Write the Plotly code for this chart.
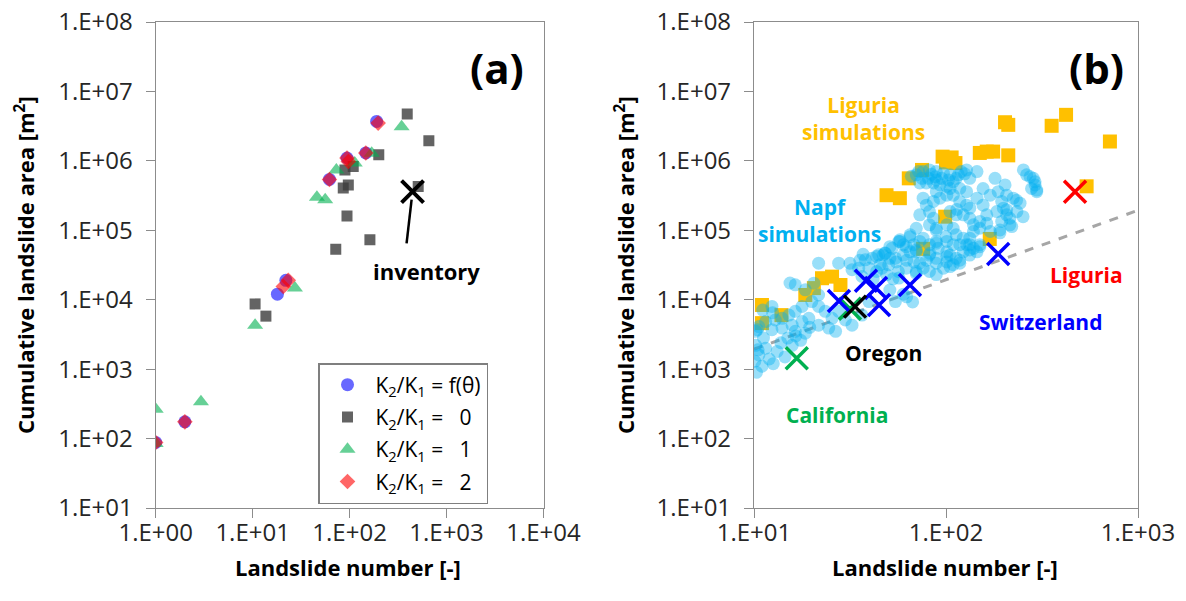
import numpy as np
import plotly.graph_objects as go

W, H = 1186, 601

# ---------------- Panel (a) data ----------------
a_f_x = [1, 2, 18, 22, 62, 94, 147, 190]
a_f_y = [88, 174, 1.2e4, 1.9e4, 5.4e5, 1.1e6, 1.3e6, 3.7e6]
a_0_x = [10.6, 13.7, 72, 86, 89.5, 94, 97, 109, 162, 200, 393, 510, 657]
a_0_y = [8.7e3, 5.8e3, 5.35e4, 4.05e5, 7.4e5, 1.6e5, 4.5e5, 8.3e5, 7.3e4, 1.22e6, 4.75e6, 4.27e5, 1.95e6]
a_1_x = [1, 1, 2.93, 10.6, 27.3, 46, 56, 73, 113, 169, 344]
a_1_y = [85, 265, 340, 4.3e3, 1.47e4, 3.0e5, 2.76e5, 7.4e5, 9.3e5, 1.29e6, 3.1e6]
a_2_x = [1, 2, 20.7, 23.3, 62, 94, 97, 147, 197]
a_2_y = [88, 174, 1.55e4, 1.9e4, 5.4e5, 1.1e6, 9.8e5, 1.3e6, 3.5e6]
inv_x = [446]
inv_y = [3.6e5]
arrow_x = [387, 436]
arrow_y = [6.5e4, 2.76e5]

# ---------------- Panel (b) data ----------------
lig_sim_x = [203, 211, 355, 422, 714, 540, 163, 176, 211, 150, 96, 107, 112, 100,
             75, 64, 49, 57.5, 99, 169, 76,
             11, 11, 13.9, 18.5, 20.5, 22.6, 25.5, 28.2]
lig_sim_y = [3.6e6, 3.3e6, 3.2e6, 4.6e6, 1.9e6, 4.3e5, 1.36e6, 1.36e6, 1.2e6, 1.3e6, 1.15e6, 1.12e6, 9.3e5, 9.5e5,
             7.4e5, 5.6e5, 3.2e5, 2.9e5, 1.57e5, 7.5e4, 5.4e4,
             8.4e3, 4.6e3, 6.0e3, 1.17e4, 1.47e4, 2.04e4, 2.15e4, 1.63e4]

napf_x = [128, 145, 133, 116, 180, 203, 253, 263, 285, 291, 297, 279, 156, 170, 187, 207, 224, 243, 195, 199,
          184, 207, 195, 215, 234, 215, 191, 170, 150, 139, 133, 128, 139, 123, 113, 105, 101, 89, 82, 79,
          73, 68, 65, 60, 57.5, 60, 55, 51, 47, 45.4, 49, 53, 43.5, 41.8, 56.5, 62, 70, 76, 82, 89,
          97, 109, 118, 133, 145, 150, 123, 113, 109, 101, 89, 82, 86, 82, 79, 86, 93, 101, 109, 118,
          128, 133, 123, 113, 105, 133, 139, 150, 163, 156, 145, 128, 118, 105, 89, 76, 73, 70, 65, 76,
          89, 101, 109, 101, 91, 82, 73, 68, 70, 133, 118,
          70, 76, 82, 89, 97, 105, 75, 81, 88, 95, 103, 109, 79, 86, 93, 101, 73, 113, 89, 84,
          21.7, 27.6, 32.4, 35.1, 38, 41.2, 44.6, 48.3, 52.4, 56.8, 54.5, 50.3, 46.4, 39.7, 36.5, 16.4,
          18.5, 20.5, 21.7, 20, 17.8, 16.4, 15.2, 14, 12.9, 12.4, 11.5, 10.6, 10.2, 21.7, 23.5, 25.5,
          19.3, 17.8, 15.8, 14, 12.4, 27.6, 29.9, 21.7, 24.5, 26.6, 16.4, 56.8, 54.5, 36.5, 32.4, 39.7,
          51, 57.6, 65, 70, 82.5, 89, 100, 43.5, 35.6, 31.6, 62.4, 89, 70, 62.4, 11.1, 12.5, 10.4, 15.4,
          233, 252, 220, 207, 191, 163, 150, 133, 118, 105, 101, 274, 291, 297,
          10.1, 10.3, 10.6, 11, 11.5, 12, 12.6, 13.2, 13.8, 14.5, 15, 15.8, 16.5, 17.5, 10.2, 11.2, 18.5, 19.5, 10.5,
          67, 51, 60, 66, 72, 120, 125, 37, 48, 62, 89, 114]
napf_y = [7.4e5, 7.0e5, 5.6e5, 6.3e5, 5.6e5, 4.5e5, 7.4e5, 6.3e5, 5.6e5, 4.5e5, 3.6e5, 4.0e5, 4.0e5, 3.2e5, 3.6e5, 3.2e5, 2.9e5, 2.46e5, 2.6e5, 2.08e5,
          1.86e5, 1.67e5, 1.34e5, 1.49e5, 1.86e5, 1.2e5, 1.01e5, 9.6e4, 1.07e5, 9.6e4, 7.7e4, 6.2e4, 5.5e4, 4.9e4, 3.95e4, 4.4e4, 3.5e4, 3.95e4, 4.4e4, 3.7e4,
          3.35e4, 3.5e4, 4.9e4, 6.2e4, 6.9e4, 4.4e4, 3.5e4, 3.95e4, 4.4e4, 3.2e4, 2.3e4, 2.0e4, 2.55e4, 2.0e4, 2.55e4, 2.85e4, 2.55e4, 2.85e4, 2.55e4, 2.3e4,
          2.85e4, 3.2e4, 3.35e4, 4.4e4, 4.9e4, 6.2e4, 7.7e4, 8.6e4, 1.07e5, 1.2e5, 1.07e5, 1.2e5, 1.49e5, 1.86e5, 2.3e5, 2.6e5, 2.9e5, 3.2e5, 3.2e5, 2.6e5,
          2.3e5, 2.08e5, 1.67e5, 1.67e5, 1.86e5, 1.49e5, 1.2e5, 1.34e5, 1.67e5, 2.3e5, 2.9e5, 3.6e5, 4.0e5, 4.0e5, 3.6e5, 2.9e5, 1.67e5, 1.07e5, 8.6e4, 7.7e4,
          6.9e4, 6.9e4, 6.2e4, 4.9e4, 5.5e4, 6.2e4, 6.9e4, 6.2e4, 4.9e4, 6.2e4, 6.2e4,
          6.3e5, 7.0e5, 7.4e5, 7.0e5, 6.6e5, 6.3e5, 5.6e5, 5.6e5, 5.9e5, 5.6e5, 5.3e5, 5.0e5, 4.8e5, 4.8e5, 4.5e5, 4.3e5, 4.8e5, 5.6e5, 5.3e5, 6.4e5,
          3.36e4, 3.36e4, 2.7e4, 2.85e4, 3.75e4, 3.96e4, 4.43e4, 4.68e4, 5.5e4, 6.9e4, 3.96e4, 3.18e4, 2.85e4, 2.85e4, 2.16e4, 1.64e4,
          1.39e4, 1.73e4, 1.17e4, 9.4e3, 8.0e3, 6.8e3, 6.0e3, 5.4e3, 5.1e3, 8.0e3, 4.85e3, 4.1e3, 3.5e3, 8.0e3, 6.8e3, 5.4e3,
          5.4e3, 4.85e3, 4.3e3, 3.9e3, 3.7e3, 6.8e3, 5.1e3, 4.3e3, 3.9e3, 3.5e3, 3.5e3, 2.05e4, 9.4e3, 6.0e3, 4.3e3, 9.4e3,
          5.8e4, 7.3e4, 8.1e4, 5.2e4, 4.65e4, 6.5e4, 8.1e4, 4.2e4, 3.7e4, 3.35e4, 3.7e4, 3.35e4, 2.4e4, 1.1e4, 7.1e3, 6.5e3, 3.7e3, 1.74e4,
          2.7e5, 1.57e5, 1.13e5, 1.97e5, 9.2e4, 1.26e5, 5.8e4, 5.2e4, 3.7e4, 3.0e4, 4.2e4, 5.9e5, 5.0e5, 3.8e5,
          1.3e3, 900, 1.6e3, 1.1e3, 2.0e3, 1.4e3, 1.2e3, 1.8e3, 2.4e3, 1.5e3, 2.8e3, 2.2e3, 3.0e3, 2.6e3, 2.2e3, 2.8e3, 3.3e3, 4.0e3, 1.9e3,
          9.3e3, 1.38e4, 1.2e4, 6.0e5, 7.0e5, 7.0e5, 6.5e5, 4.5e4, 4.7e4, 5.8e4, 1.0e5, 2.0e5]

swiss_x = [27.7, 38.3, 43.2, 44.8, 64.9, 187]
swiss_y = [9.6e3, 1.87e4, 1.48e4, 8.4e3, 1.63e4, 4.57e4]
liguria_x = [470]
liguria_y = [3.6e5]
oregon_x = [33.6]
oregon_y = [7.95e3]
calif_x = [31.6, 16.7]
calif_y = [7.4e3, 1.44e3]
trend_x = [10, 1000]
trend_y = [1.94e3, 1.94e5]

xa_ticks = [1, 10, 100, 1000, 10000]
xa_text = ["1.E+00", "1.E+01", "1.E+02", "1.E+03", "1.E+04"]
xb_ticks = [10, 100, 1000]
xb_text = ["1.E+01", "1.E+02", "1.E+03"]
y_ticks = [1e1, 1e2, 1e3, 1e4, 1e5, 1e6, 1e7, 1e8]
y_text = ["1.E+01", "1.E+02", "1.E+03", "1.E+04", "1.E+05", "1.E+06", "1.E+07", "1.E+08"]
y_text_padded = [t + "\u2009\u2009" for t in y_text]

FONT = "Open Sans"
TICKFONT = dict(family=FONT, size=24, color="#262626")
AX_COL = "#8c8c8c"

fig = go.Figure()

k = "K<sub>2</sub>/K<sub>1</sub>"
fig.add_trace(go.Scatter(x=a_f_x, y=a_f_y, mode="markers", name=k + " = f(θ)", legendgroup="g1",
                         marker=dict(symbol="circle", size=13, color="rgb(40,40,255)", opacity=0.7, line=dict(width=0)),
                         xaxis="x", yaxis="y"))
fig.add_trace(go.Scatter(x=a_0_x, y=a_0_y, mode="markers", name=k + " =\u00a0\u00a0 0", legendgroup="g2",
                         marker=dict(symbol="square", size=11, color="rgb(60,60,60)", opacity=0.8, line=dict(width=0)),
                         xaxis="x", yaxis="y"))
fig.add_trace(go.Scatter(x=a_1_x, y=a_1_y, mode="markers", name=k + " =\u00a0\u00a0 1", legendgroup="g3",
                         marker=dict(symbol="triangle-up", size=14, color="rgb(0,176,80)", opacity=0.6, line=dict(width=0)),
                         xaxis="x", yaxis="y"))
fig.add_trace(go.Scatter(x=a_2_x, y=a_2_y, mode="markers", name=k + " =\u00a0\u00a0 2", legendgroup="g4",
                         marker=dict(symbol="diamond", size=12, color="rgb(255,0,0)", opacity=0.6, line=dict(width=0)),
                         xaxis="x", yaxis="y"))
fig.add_trace(go.Scatter(x=arrow_x, y=arrow_y, mode="lines", showlegend=False,
                         line=dict(color="black", width=2.5), xaxis="x", yaxis="y"))
fig.add_trace(go.Scatter(x=inv_x, y=inv_y, mode="markers", showlegend=False,
                         marker=dict(symbol="x-thin", size=22, line=dict(color="black", width=4)),
                         xaxis="x", yaxis="y"))

# panel b
fig.add_trace(go.Scatter(x=trend_x, y=trend_y, mode="lines", showlegend=False,
                         line=dict(color="#a6a6a6", width=3, dash="dash"), xaxis="x2", yaxis="y2"))
fig.add_trace(go.Scatter(x=lig_sim_x, y=lig_sim_y, mode="markers", showlegend=False,
                         marker=dict(symbol="square", size=14, color="#FFC000", line=dict(width=0)),
                         xaxis="x2", yaxis="y2"))
fig.add_trace(go.Scatter(x=napf_x, y=napf_y, mode="markers", showlegend=False,
                         marker=dict(symbol="circle", size=13, color="#00B0F0", opacity=0.4, line=dict(width=0)),
                         xaxis="x2", yaxis="y2"))
for xs, ys, col in [(calif_x, calif_y, "#00B050"), (swiss_x, swiss_y, "#0000FF"),
                    (oregon_x, oregon_y, "black"), (liguria_x, liguria_y, "#FF0000")]:
    fig.add_trace(go.Scatter(x=xs, y=ys, mode="markers", showlegend=False,
                             marker=dict(symbol="x-thin", size=22, line=dict(color=col, width=3.5)),
                             xaxis="x2", yaxis="y2"))

def px_x(p):
    return p / W

def px_y(p):
    return 1 - p / H

common = dict(type="log", showline=True, linecolor=AX_COL, linewidth=1.3, mirror=True,
              ticks="outside", ticklen=9, tickcolor=AX_COL, tickwidth=1.3, showgrid=False,
              zeroline=False, tickfont=TICKFONT, automargin=False)

fig.update_layout(
    width=W, height=H, margin=dict(l=0, r=0, t=0, b=0, autoexpand=False),
    paper_bgcolor="white", plot_bgcolor="white",
    font=dict(family=FONT, color="black"),
    xaxis=dict(domain=[px_x(155.7), px_x(543.5)], range=[0, 4], tickvals=xa_ticks, ticktext=xa_text,
               anchor="y", ticklabelstandoff=-6, **common),
    yaxis=dict(domain=[px_y(508), px_y(22)], range=[1, 8], tickvals=y_ticks, ticktext=y_text_padded,
               anchor="x", **common),
    xaxis2=dict(domain=[px_x(754), px_x(1138)], range=[1, 3], tickvals=xb_ticks, ticktext=xb_text,
                anchor="y2", ticklabelstandoff=-6, **common),
    yaxis2=dict(domain=[px_y(508), px_y(22)], range=[1, 8], tickvals=y_ticks, ticktext=y_text_padded,
                anchor="x2", **common),
    showlegend=True,
    legend=dict(x=px_x(318), y=px_y(363), xanchor="left", yanchor="top",
                bordercolor="#7f7f7f", borderwidth=1.5, bgcolor="white",
                font=dict(family=FONT, size=21, color="black"), tracegroupgap=2,
                traceorder="grouped", itemwidth=46),
)

ann = []
def add_text(x, y, text, size=22, color="black", bold=True, angle=0):
    t = f"<b>{text}</b>" if bold else text
    ann.append(dict(x=px_x(x), y=px_y(y), xref="paper", yref="paper", text=t, showarrow=False,
                    font=dict(family=FONT, size=size, color=color), xanchor="center", yanchor="middle",
                    textangle=angle, align="center"))

add_text(497, 67, "(a)", size=42)
add_text(1096, 67, "(b)", size=42)
add_text(426, 271, "inventory", size=22)
add_text(348, 567, "Landslide number [-]", size=22)
add_text(945, 567, "Landslide number [-]", size=22)
add_text(24, 265, "Cumulative landslide area [m<sup>2</sup>]", size=22, angle=-90)
add_text(624, 265, "Cumulative landslide area [m<sup>2</sup>]", size=22, angle=-90)
add_text(863, 118, "Liguria<br>simulations", size=21, color="#FFC000")
add_text(819, 220, "Napf<br>simulations", size=21, color="#00B0F0")
add_text(1086, 275, "Liguria", size=21, color="#FF0000")
add_text(1040, 322, "Switzerland", size=21, color="#0000FF")
add_text(883, 353, "Oregon", size=21, color="black")
add_text(837, 415, "California", size=21, color="#00B050")
fig.update_layout(annotations=ann)

fig.write_html("out.html")
